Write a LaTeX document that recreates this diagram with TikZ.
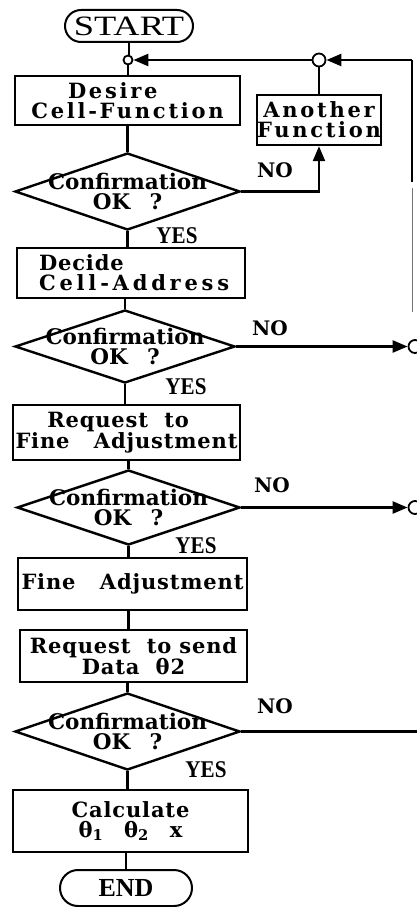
\documentclass[tikz,border=0pt]{standalone}
\usepackage{fontspec}
\setmainfont{Liberation Serif}
\newfontfamily\slab{DejaVu Serif}
\newfontfamily\slabsp{DejaVu Serif}[LetterSpace=4]
\newfontfamily\slabwide{DejaVu Serif}[LetterSpace=13]
\newfontfamily\slabwider{DejaVu Serif}[LetterSpace=18]
\usetikzlibrary{shapes.geometric,shapes.misc,arrows.meta}

\tikzset{
  flow/.style={line width=2.4pt},
  tip/.style={-{Triangle[length=15pt,width=12pt]}},
  box/.style={draw, line width=2.4pt, inner sep=0pt, align=center,
    font=\slabsp\bfseries\fontsize{21}{20}\selectfont},
  decision/.style={draw, diamond, line width=2.4pt, inner sep=0pt},
  ask/.style={font=\slab\bfseries\fontsize{21.5}{19.5}\selectfont, align=center, inner sep=0pt},
  term/.style={draw, rounded rectangle, line width=2pt, inner sep=0pt},
  joint/.style={draw, circle, line width=1.8pt, inner sep=0pt, minimum size=#1, fill=white},
  yes/.style={font=\bfseries\fontsize{24}{24}\selectfont, inner sep=0pt},
  no/.style={font=\slab\bfseries\fontsize{20}{20}\selectfont, inner sep=0pt},
}

\begin{document}
\begin{tikzpicture}[x=1pt,y=-1pt]
\useasboundingbox (0,0) rectangle (416,907);

% terminals
\node[term, minimum width=128pt, minimum height=32pt, font=\fontsize{28}{28}\selectfont]
  (start) at (129,26) {\scalebox{1.3}[1]{START}};
\node[term, minimum width=132pt, minimum height=36pt, font=\bfseries\fontsize{26}{26}\selectfont]
  (end) at (126,888) {END};

% junctions on the return path
\node[joint=9pt] (jl) at (128,60) {};
\node[joint=13pt] (jr) at (319,60) {};
\coordinate (rt) at (412,60);
\coordinate (rm) at (412,182);
\coordinate (rg) at (412,188);
\coordinate (rb) at (412,312);

% process boxes
\node[box, minimum width=225pt, minimum height=49pt] (desire) at (127.5,100.5)
  {{\slabwide Desire}\hspace*{1.4em}\\{\slabwide Cell-Function}};
\node[box, minimum width=124pt, minimum height=50pt] (another) at (319,120)
  {{\slabwide Another}\\{\slabwide Function}};
\node[box, minimum width=228pt, minimum height=50pt, align=left] (decide) at (131,273)
  {\hspace*{0.3em}Decide\\\hspace*{0.3em}{\slabwider Cell-Address}};
\node[box, minimum width=227pt, minimum height=55pt] (reqfine) at (126.5,432.5)
  {Request\ \ to\hspace*{0.8em}\\Fine\ \ \ Adjustment};
\node[box, minimum width=229pt, minimum height=52pt] (fine) at (132.5,584)
  {Fine\ \ \ Adjustment};
\node[box, minimum width=227pt, minimum height=52pt] (reqsend) at (133.5,656)
  {Request\ \ to send\\Data\ \ θ2};
\node[box, minimum width=235pt, minimum height=62pt] (calc) at (130.5,821)
  {Calculate\\θ\textsubscript{1}\hspace{1em}θ\textsubscript{2}\hspace{1em}x};

% decisions
\node[decision, minimum width=225pt, minimum height=77pt,
  label={[ask]center:{Confirmation\\OK\hspace{0.9em}?}}] (d1) at (127.5,191.5) {};
\node[decision, minimum width=220pt, minimum height=73pt,
  label={[ask]center:{Confirmation\\OK\hspace{0.9em}?}}] (d2) at (125,346.5) {};
\node[decision, minimum width=223pt, minimum height=75pt,
  label={[ask]center:{Confirmation\\OK\hspace{0.9em}?}}] (d3) at (128.5,507.5) {};
\node[decision, minimum width=225pt, minimum height=77pt,
  label={[ask]center:{Confirmation\\OK\hspace{0.9em}?}}] (d4) at (127.5,731.5) {};

% off-page connectors at the right edge
\node[joint=13pt] (c2) at (415,346.5) {};
\node[joint=13pt] (c3) at (415,507.5) {};
\coordinate (c4) at (420,731.5);

% main flow
\draw[flow] (start.south) -- (start.south |- jl.north);
\draw[flow] (jl.south) -- (jl.south |- desire.north);
\draw[flow] (desire.south) -- (desire.south |- d1.north);
\draw[flow] (d1.south) -- (d1.south |- decide.north);
\draw[flow] (decide.south -| d2.north) -- (d2.north);
\draw[flow] (d2.south) -- (d2.south |- reqfine.north);
\draw[flow] (reqfine.south -| d3.north) -- (d3.north);
\draw[flow] (d3.south) -- (d3.south |- fine.north);
\draw[flow] (fine.south -| d3.south) -- (d3.south |- reqsend.north);
\draw[flow] (reqsend.south -| d4.north) -- (d4.north);
\draw[flow] (d4.south) -- (d4.south |- calc.north);
\draw[flow] (calc.south -| end.north) -- (end.north);

% return path
\draw[flow] (rm) -- (rt);
\draw[flow, line width=1pt, black!55] (rg) -- (rb);
\draw[flow, tip] (rt) -- (jr.east);
\draw[flow, tip] (jr.west) -- (jl.east);
\draw[flow] (jr.south) -- (another.north);
\draw[flow, tip] (d1.east) -| (another.south);

% NO branches
\draw[flow, tip] (d2.east) -- (c2.west);
\draw[flow, tip] (d3.east) -- (c3.west);
\draw[flow] (d4.east) -- (c4);

% branch labels
\node[no] (no1) at (275,170) {NO};
\node[no] (no2) at (270,328) {NO};
\node[no] (no3) at (272,485) {NO};
\node[no] (no4) at (275,706) {NO};
\node[yes] (yes1) at (177,236) {\scalebox{0.88}[1]{YES}};
\node[yes] (yes2) at (186,387) {\scalebox{0.88}[1]{YES}};
\node[yes] (yes3) at (196,546) {\scalebox{0.88}[1]{YES}};
\node[yes] (yes4) at (206,770) {\scalebox{0.88}[1]{YES}};
\end{tikzpicture}
\end{document}
